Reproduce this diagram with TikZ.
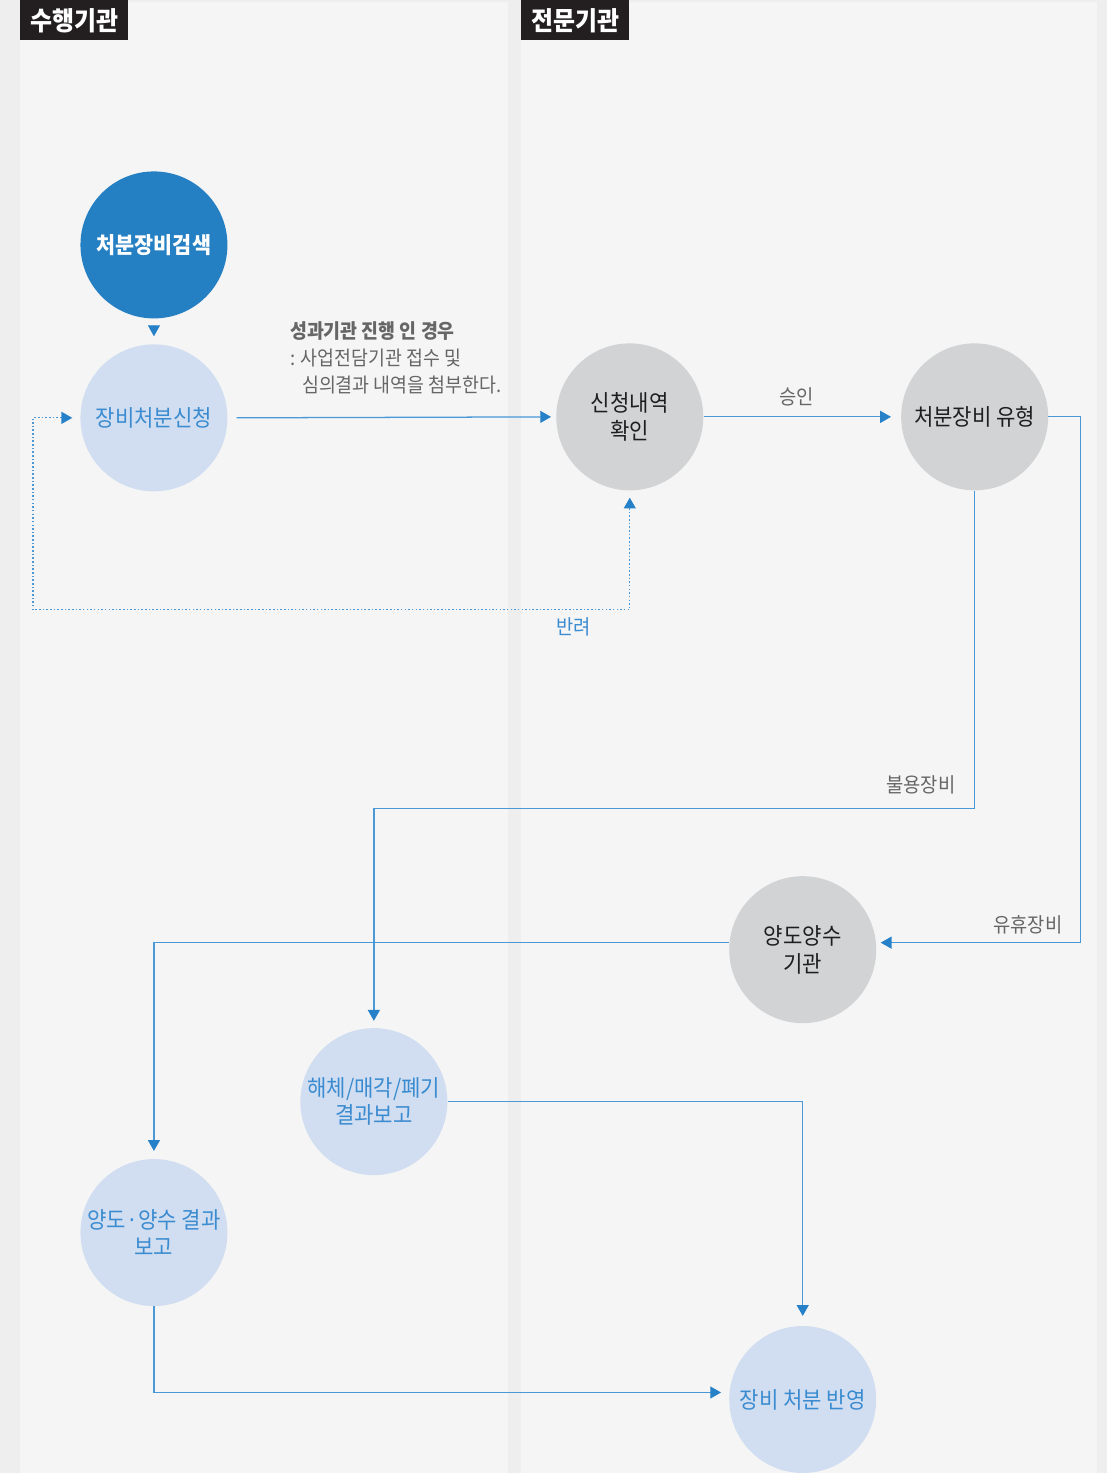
\documentclass[tikz,border=0pt]{standalone}
\usepackage{fontspec}
\setmainfont{Noto Sans CJK KR}[FakeStretch=0.92]
\usetikzlibrary{arrows.meta}
\definecolor{outer}{HTML}{EEEEEE}
\definecolor{panel}{HTML}{F5F5F5}
\definecolor{headbg}{HTML}{231F20}
\definecolor{deepblue}{HTML}{2580C3}
\definecolor{paleblue}{HTML}{D1DEF1}
\definecolor{stepgray}{HTML}{D2D3D5}
\definecolor{textblue}{HTML}{3A8BD0}
\definecolor{darktext}{HTML}{1E1E1E}
\definecolor{lineblue}{HTML}{4A98D6}
\definecolor{tipblue}{HTML}{2681C8}
\definecolor{labelgray}{HTML}{666666}

\begin{document}
\begin{tikzpicture}[x=0.025cm,y=-0.025cm]
            \tikzstyle{step node}=[circle,minimum size=3.675cm,inner sep=0,align=center,font=\fontsize{16.3}{19.6}\selectfont];
            \tikzstyle{dark node}=[step node,fill=deepblue,text=white,font=\fontsize{16}{19.6}\selectfont\bfseries];
            \tikzstyle{light node}=[step node,fill=paleblue,text=textblue];
            \tikzstyle{gray node}=[step node,fill=stepgray,text=darktext];
            \tikzstyle{head}=[fill=headbg,text=white,minimum width=2.7cm,minimum height=1cm,inner sep=0,anchor=north west,font=\fontsize{18.5}{20}\selectfont\bfseries];
            \tikzstyle{tag}=[text=labelgray,inner sep=0,font=\fontsize{14.5}{16}\selectfont];
            \tikzstyle{flow}=[draw=lineblue,line width=0.9pt,-{Triangle[length=7.7pt,width=8.5pt,color=tipblue]}];
            \tikzstyle{back}=[draw=lineblue,line width=0.9pt,dash pattern=on 1.1pt off 1.5pt,{Triangle[length=7.7pt,width=8.5pt,color=tipblue]}-{Triangle[length=7.7pt,width=8.5pt,color=tipblue]}];
            % lanes
            \fill[outer] (0,0) rectangle (1107,1473);
            \foreach \a/\b in {20/508,521/1097} \fill[panel] (\a,2) rectangle (\b,1473);
            \node[head] (lefthead) at (20,0) {수행기관};
            \node[head] (righthead) at (521,0) {전문기관};
            % steps
            \node[dark node] (search) at (154,245) {처분장비검색};
            \node[light node] (apply) at (154,418) {장비처분신청};
            \node[gray node] (check) at (630,417) {신청내역\\확인};
            \node[gray node] (kind) at (975,417) {처분장비 유형};
            \node[gray node] (agency) at (803,950) {양도양수\\기관};
            \node[light node] (scrap) at (374,1102) {해체/매각/폐기\\결과보고};
            \node[light node] (handover) at (154,1233) {양도·양수 결과\\보고};
            \node[light node] (reflect) at (803,1400) {장비 처분 반영};
            % flows
            \draw[flow,draw=tipblue,line width=0.01pt,shorten <=5pt,shorten >=5.6pt] (search) -- (apply);
            \draw[flow,shorten <=6.4pt,shorten >=3.5pt] (apply.east) -- (check.west);
            \draw[flow,shorten >=7pt] (check.east) -- (kind.west);
            \draw[flow,shorten >=3pt] (kind.east) -- (1081,417) |- ([yshift=5pt]agency.east);
            \draw[flow,shorten >=5pt] (kind.south) -- (975,809) -| (scrap.north);
            \draw[flow,shorten >=5.6pt] ([yshift=5pt]agency.west) -| (handover.north);
            \draw[flow,shorten >=7pt] (scrap.east) -| (reflect.north);
            \draw[flow,shorten >=5.6pt] (handover.south) |- ([yshift=5pt]reflect.west);
            \draw[back,shorten <=5pt,shorten >=5.6pt] (check.south) |- (33,610) |- (apply.west);
            % labels
            \node[tag,anchor=north west,align=left,font=\fontsize{14.2}{19.2}\selectfont] (note) at (290,321) {\textbf{성과기관 진행 인 경우}\\: 사업전담기관 접수 및\\\hspace*{0.6em}심의결과 내역을 첨부한다.};
            \node[tag] (ok) at (797,397) {승인};
            \node[tag,text=textblue] (reject) at (574,627) {반려};
            \node[tag,anchor=east] (unused) at (956,785) {불용장비};
            \node[tag,anchor=east] (idle) at (1063,925) {유휴장비};
            \useasboundingbox (0,0) rectangle (1107,1473);
\end{tikzpicture}
\end{document}
